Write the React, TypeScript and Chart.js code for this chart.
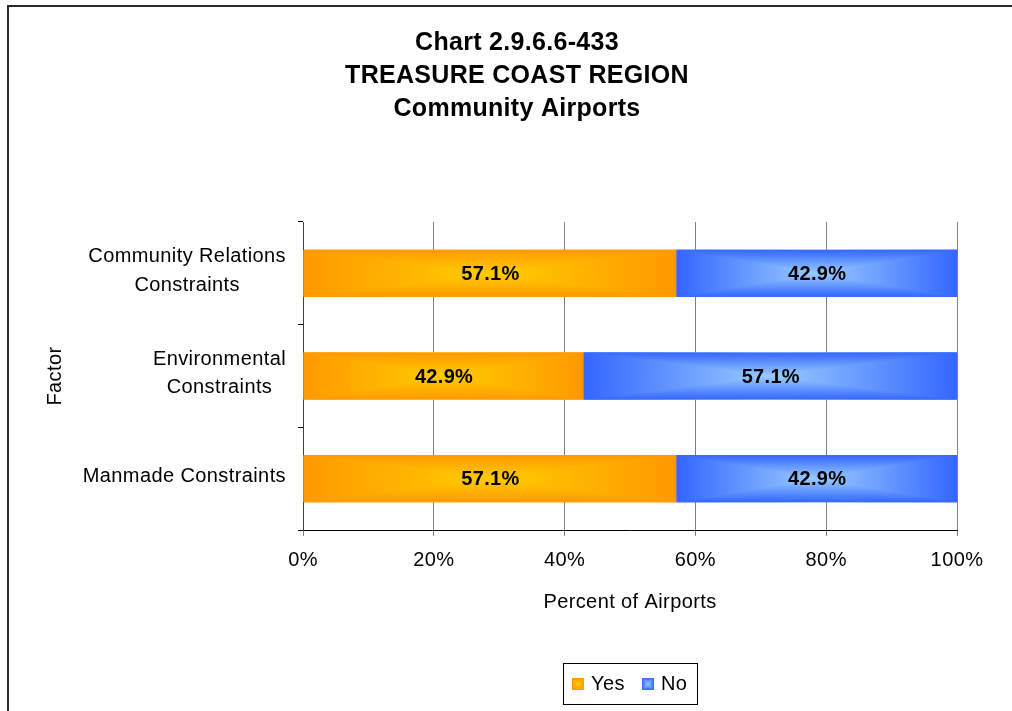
import React, { useEffect, useRef } from "react";
import { Chart, registerables } from "chart.js";
Chart.register(...registerables);

const titleLines = ["Chart 2.9.6.6-433", "TREASURE COAST REGION", "Community Airports"];
const categories = [["Community Relations", "Constraints"], ["Environmental", "Constraints"], ["Manmade Constraints"]];
const seriesNames = ["Yes", "No"];
const yesValues = [57.1, 42.9, 57.1];
const noValues = [42.9, 57.1, 42.9];
const xTickValues = [0, 20, 40, 60, 80, 100];
const xAxisTitle = "Percent of Airports";
const yAxisTitle = "Factor";

const FONT = '"Liberation Sans", Arial, Helvetica, sans-serif';
const EDGES = ["#FF9900", "#3366FF"];
const CENTERS = ["#FFCC00", "#99CCFF"];
const SP = "0.4px";

function setSpacing(ctx: any, s: string) {
  try { ctx.letterSpacing = s; } catch (e) { /* ignore */ }
}

function drawCenterGradient(ctx: CanvasRenderingContext2D, l: number, t: number, r: number, b: number, edge: string, center: string) {
  const cx = (l + r) / 2, cy = (t + b) / 2;
  ctx.save();
  const gh = ctx.createLinearGradient(l, 0, r, 0);
  gh.addColorStop(0, edge);
  gh.addColorStop(0.5, center);
  gh.addColorStop(1, edge);
  ctx.fillStyle = gh;
  ctx.fillRect(l, t, r - l, b - t);
  ctx.beginPath();
  ctx.moveTo(l, t); ctx.lineTo(r, t); ctx.lineTo(cx, cy); ctx.closePath();
  ctx.moveTo(l, b); ctx.lineTo(r, b); ctx.lineTo(cx, cy); ctx.closePath();
  ctx.clip();
  const gv = ctx.createLinearGradient(0, t, 0, b);
  gv.addColorStop(0, edge);
  gv.addColorStop(0.5, center);
  gv.addColorStop(1, edge);
  ctx.fillStyle = gv;
  ctx.fillRect(l, t, r - l, b - t);
  ctx.restore();
}

const customPlugin = {
  id: "customDraw",
  beforeLayout(chart: any) { setSpacing(chart.ctx, SP); },
  beforeDraw(chart: any) {
    const ctx = chart.ctx;
    setSpacing(ctx, SP);
    ctx.save();
    ctx.fillStyle = "#fff";
    ctx.fillRect(0, 0, chart.width, chart.height);
    ctx.restore();
  },
  afterDatasetsDraw(chart: any) {
    const ctx: CanvasRenderingContext2D = chart.ctx;
    chart.data.datasets.forEach((ds: any, di: number) => {
      const meta = chart.getDatasetMeta(di);
      meta.data.forEach((el: any) => {
        const p = el.getProps(["x", "y", "base", "height"], true);
        const l = Math.min(p.x, p.base), r = Math.max(p.x, p.base);
        const t = p.y - p.height / 2, b = p.y + p.height / 2;
        drawCenterGradient(ctx, l, t, r, b, EDGES[di], CENTERS[di]);
      });
    });
    ctx.save();
    setSpacing(ctx, "0.3px");
    ctx.font = `bold 20px ${FONT}`;
    ctx.fillStyle = "#000";
    ctx.textAlign = "center";
    ctx.textBaseline = "middle";
    chart.data.datasets.forEach((ds: any, di: number) => {
      const meta = chart.getDatasetMeta(di);
      meta.data.forEach((el: any, i: number) => {
        const p = el.getProps(["x", "y", "base"], true);
        ctx.fillText(ds.data[i].toFixed(1) + "%", (p.x + p.base) / 2 + 0.5, p.y + 1);
      });
    });
    ctx.restore();
  },
  afterDraw(chart: any) {
    const ctx: CanvasRenderingContext2D = chart.ctx;
    ctx.save();
    // title
    setSpacing(ctx, "0.3px");
    ctx.font = `bold 25px ${FONT}`;
    ctx.fillStyle = "#000";
    ctx.textAlign = "center";
    ctx.textBaseline = "middle";
    titleLines.forEach((line, i) => ctx.fillText(line, 517, 43 + i * 33));
    // category labels
    setSpacing(ctx, SP);
    ctx.font = `20px ${FONT}`;
    const ys = chart.scales.y;
    const rightX = ys.right - 17;
    (chart.data.labels as string[][]).forEach((lines, i) => {
      const yc = ys.getPixelForTick(i) - 2.5;
      const w = Math.max(...lines.map((s) => ctx.measureText(s).width));
      const cx = rightX - w / 2;
      lines.forEach((s, j) => {
        ctx.fillText(s, cx, yc + (j - (lines.length - 1) / 2) * 28.5);
      });
    });
    // legend
    ctx.lineWidth = 1;
    ctx.strokeStyle = "#000";
    ctx.strokeRect(563.5, 663.5, 134, 41);
    const sw = [572, 642];
    const tx = [591, 661];
    ctx.textAlign = "left";
    seriesNames.forEach((name, i) => {
      drawCenterGradient(ctx, sw[i], 678, sw[i] + 12, 690, EDGES[i], CENTERS[i]);
      ctx.fillStyle = "#000";
      ctx.fillText(name, tx[i], 684);
    });
    // outer border
    ctx.lineWidth = 2;
    ctx.strokeStyle = "#2b2b2b";
    ctx.strokeRect(8, 6, 1100, 800);
    ctx.restore();
    setSpacing(ctx, SP);
  },
};

export default function App() {
  const ref = useRef<HTMLCanvasElement | null>(null);
  useEffect(() => {
    if (!ref.current) return;
    const chart = new Chart(ref.current, {
      type: "bar",
      data: {
        labels: categories as any,
        datasets: [
          { label: seriesNames[0], data: yesValues, backgroundColor: EDGES[0], borderWidth: 0, barPercentage: 0.46, categoryPercentage: 1 },
          { label: seriesNames[1], data: noValues, backgroundColor: EDGES[1], borderWidth: 0, barPercentage: 0.46, categoryPercentage: 1 },
        ],
      },
      options: {
        indexAxis: "y",
        responsive: false,
        animation: false,
        devicePixelRatio: 1,
        layout: { padding: { left: 30, right: 55, top: 222, bottom: 89 } },
        plugins: { legend: { display: false }, title: { display: false }, tooltip: { enabled: false } },
        scales: {
          x: {
            stacked: true,
            min: 0,
            max: 100,
            afterBuildTicks: (s: any) => { s.ticks = xTickValues.map((v) => ({ value: v })); },
            ticks: { callback: (v: any) => v + "%", font: { size: 20, family: FONT }, color: "#000", padding: 12, maxRotation: 0 },
            grid: { color: "#808080", tickLength: 6, tickColor: "#808080" },
            border: { color: "#000", width: 1 },
            title: { display: true, text: xAxisTitle, font: { size: 20, family: FONT }, color: "#000", padding: { top: 0, bottom: 8 } },
            afterFit: (s: any) => { s.height = 92; },
          },
          y: {
            stacked: true,
            ticks: { display: false },
            grid: { offset: true, drawOnChartArea: false, tickLength: 5, color: "#000" },
            border: { color: "#404040", width: 1 },
            title: { display: true, text: yAxisTitle, font: { size: 20, family: FONT }, color: "#000", padding: { top: 13, bottom: 0 } },
            afterFit: (s: any) => { s.width = 273; },
          },
        },
      } as any,
      plugins: [customPlugin as any],
    });
    return () => chart.destroy();
  }, []);
  return (
    <div style={{ position: "fixed", left: 0, top: 0, width: 1012, height: 711, background: "#fff" }}>
      <canvas ref={ref} width={1012} height={711} style={{ display: "block" }} />
    </div>
  );
}
